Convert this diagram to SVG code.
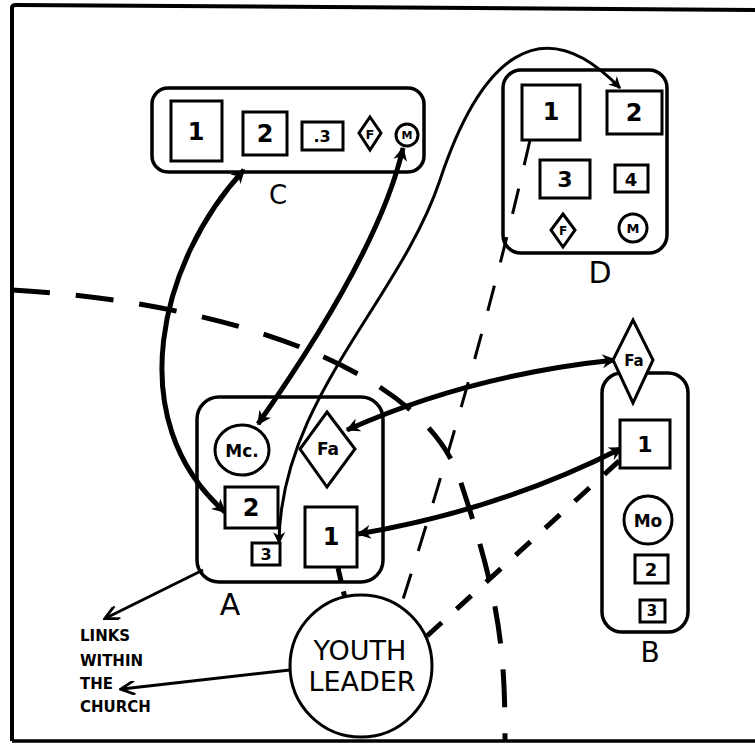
<svg xmlns="http://www.w3.org/2000/svg" width="755" height="744" viewBox="0 0 755 744">
<defs>
<marker id="ah" viewBox="0 0 10 10" refX="9" refY="5" markerWidth="20" markerHeight="14" markerUnits="userSpaceOnUse" orient="auto-start-reverse">
<path d="M0,0 L10,5 L0,10 L3,5 z" fill="#000"/>
</marker>
<marker id="ahs" viewBox="0 0 10 10" refX="9" refY="5" markerWidth="16" markerHeight="12" markerUnits="userSpaceOnUse" orient="auto-start-reverse">
<path d="M0,0 L10,5 L0,10 L3,5 z" fill="#000"/>
</marker>
<marker id="oa" viewBox="0 0 10 10" refX="9" refY="5" markerWidth="18" markerHeight="14" markerUnits="userSpaceOnUse" orient="auto">
<path d="M0,0 L10,5 L0,10" fill="none" stroke="#000" stroke-width="2"/>
</marker>
</defs>
<style>
.box{fill:none;stroke:#000;stroke-width:3.5}
.sq{fill:#fff;stroke:#000;stroke-width:3}
.t{font-family:"DejaVu Sans",sans-serif;font-weight:bold;text-anchor:middle;dominant-baseline:central;fill:#000}
.lbl{font-family:"DejaVu Sans",sans-serif;text-anchor:middle;dominant-baseline:central;fill:#000}
.thick{fill:none;stroke:#000;stroke-width:5}
.thin{fill:none;stroke:#000;stroke-width:3}
.hand{font-family:"DejaVu Sans",sans-serif;font-weight:bold;fill:#000;font-size:15px}
</style>
<rect width="755" height="744" fill="#fff"/>
<path d="M12,741 L12,8 Q12,5 16,5 L755,10" fill="none" stroke="#000" stroke-width="4"/>
<path d="M12,741 L755,741" fill="none" stroke="#000" stroke-width="3.5"/>

<g id="connectors">
<path class="thick" d="M12,290 C200,300 420,360 460,480 S505,650 505,741" stroke-width="6" stroke-dasharray="38,26"/>
<path class="thin" d="M530,140 Q480,360 398,615" stroke-width="3.5" stroke-dasharray="26,24"/>
<path class="thick" d="M427,636 L620,460" stroke-width="5" stroke-dasharray="20,20"/>
<path class="thick" d="M338,568 L350,620" stroke-width="5" stroke-dasharray="14,10"/>
<path class="thick" d="M244,170 C160,260 120,420 225,512" marker-start="url(#ah)" marker-end="url(#ah)"/>
<path class="thick" d="M403,148 Q380,250 258,424" marker-start="url(#ah)" marker-end="url(#ah)"/>
<path class="thin" d="M279,543 C280,400 400,300 440,180 S540,5 620,88" marker-start="url(#ahs)" marker-end="url(#ahs)"/>
<path class="thick" d="M347,430 Q470,375 615,360" marker-start="url(#ah)" marker-end="url(#ah)"/>
<path class="thick" d="M358,534 Q500,510 622,448" marker-start="url(#ah)" marker-end="url(#ah)"/>
<path class="thin" d="M203,570 L106,618" stroke-width="2.5" marker-end="url(#oa)"/>
<path class="thin" d="M290,670 L122,689" stroke-width="2.5" marker-end="url(#oa)"/>
</g>

<g id="nodeC">
<rect class="box" x="152" y="88" width="272" height="84" rx="16"/>
<rect class="sq" x="171" y="101" width="51" height="60"/>
<text class="t" x="196" y="132" font-size="24">1</text>
<rect class="sq" x="243" y="112" width="44" height="43"/>
<text class="t" x="265" y="134" font-size="24">2</text>
<rect class="sq" x="302" y="122" width="41" height="28"/>
<text class="t" x="322" y="136" font-size="16">.3</text>
<path class="sq" d="M370,117 L381,133 L370,150 L359,133 z"/>
<text class="t" x="370" y="134" font-size="13">F</text>
<circle class="sq" cx="407" cy="135" r="11"/>
<text class="t" x="407" y="135" font-size="11">M</text>
<text class="lbl" x="278" y="195" font-size="26">C</text>
</g>

<g id="nodeD">
<rect class="box" x="503" y="70" width="164" height="183" rx="18"/>
<rect class="sq" x="522" y="85" width="58" height="55"/>
<text class="t" x="551" y="112" font-size="24">1</text>
<rect class="sq" x="607" y="91" width="55" height="43"/>
<text class="t" x="634" y="113" font-size="24">2</text>
<rect class="sq" x="540" y="160" width="50" height="38"/>
<text class="t" x="565" y="179" font-size="22">3</text>
<rect class="sq" x="615" y="165" width="33" height="27"/>
<text class="t" x="631" y="179" font-size="18">4</text>
<path class="sq" d="M563,214 L575,230 L563,247 L551,230 z"/>
<text class="t" x="563" y="231" font-size="12">F</text>
<circle class="sq" cx="633" cy="228" r="14"/>
<text class="t" x="633" y="228" font-size="13">M</text>
<text class="lbl" x="600" y="272" font-size="30">D</text>
</g>

<g id="nodeA">
<rect class="box" x="197" y="397" width="186" height="185" rx="22"/>
<ellipse class="sq" cx="242" cy="450" rx="27" ry="25"/>
<text class="t" x="242" y="451" font-size="17">Mc.</text>
<path class="sq" d="M327,412 L355,449 L327,487 L300,449 z"/>
<text class="t" x="328" y="449" font-size="17">Fa</text>
<rect class="sq" x="225" y="487" width="53" height="41"/>
<text class="t" x="251" y="508" font-size="24">2</text>
<rect class="sq" x="252" y="543" width="28" height="22"/>
<text class="t" x="266" y="554" font-size="16">3</text>
<rect class="sq" x="305" y="507" width="52" height="60"/>
<text class="t" x="331" y="537" font-size="24">1</text>
<text class="lbl" x="230" y="604" font-size="30">A</text>
</g>

<g id="nodeB">
<rect class="box" x="602" y="373" width="86" height="259" rx="20"/>
<path class="sq" d="M633,320 L653,360 L633,403 L613,360 z"/>
<text class="t" x="634" y="361" font-size="15">Fa</text>
<rect class="sq" x="620" y="420" width="50" height="48"/>
<text class="t" x="645" y="444" font-size="22">1</text>
<circle class="sq" cx="648" cy="520" r="24"/>
<text class="t" x="648" y="521" font-size="17">Mo</text>
<rect class="sq" x="635" y="555" width="33" height="28"/>
<text class="t" x="651" y="569" font-size="18">2</text>
<rect class="sq" x="640" y="600" width="25" height="22"/>
<text class="t" x="652" y="611" font-size="15">3</text>
<text class="lbl" x="650" y="652" font-size="28">B</text>
</g>

<g id="nodeYL">
<circle class="sq" cx="361" cy="666" r="71" stroke-width="2.5"/>
<text class="lbl" x="360" y="650" font-size="27">YOUTH</text>
<text class="lbl" x="362" y="681" font-size="27">LEADER</text>
</g>

<g id="linksText">
<text class="hand" x="80" y="641">LINKS</text>
<text class="hand" x="80" y="666" font-size="13">WITHIN</text>
<text class="hand" x="80" y="689" font-size="14">THE</text>
<text class="hand" x="80" y="712" font-size="14">CHURCH</text>
</g>
</svg>
